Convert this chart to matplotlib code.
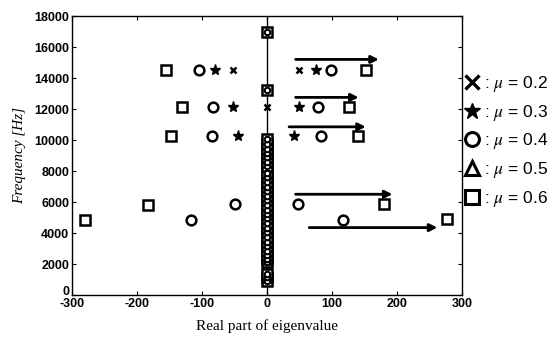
import matplotlib
matplotlib.use("Agg")
import matplotlib.pyplot as plt
import matplotlib.transforms as mtransforms
from matplotlib.lines import Line2D

plt.rcParams['mathtext.fontset'] = 'stix'
plt.rcParams['axes.unicode_minus'] = False

# unstable mode pairs (real part, frequency) for each friction coefficient
mu02_re = [-53, 49, 0]
mu02_f = [14500, 14500, 12150]

mu03_re = [-80, 75, -53, 49, -45, 42]
mu03_f = [14500, 14500, 12150, 12150, 10250, 10250]

mu04_re = [-104, 99, -83, 78, -85, 83, -50, 48, -117, 117]
mu04_f = [14500, 14500, 12150, 12150, 10250, 10250, 5850, 5850, 4820, 4820]

mu06_re = [-156, 152, -131, 126, -147, 140, -183, 180, -280, 277]
mu06_f = [14500, 14500, 12150, 12150, 10250, 10250, 5820, 5860, 4840, 4900]

# stable modes sitting on the imaginary axis
zero_f = [900, 1150, 1350, 2100, 2350, 2600, 2850, 3150, 3450, 3750, 4050,
          4350, 4650, 4950, 5200, 5500, 5800, 6100, 6400, 6700, 7000, 7300,
          7600, 7900, 8300, 8600, 8900, 9150, 9450, 9750, 10050, 13200, 17000]

# arrows showing the trend with increasing mu
arrow_f = [15200, 12750, 10850, 6500, 4350]
arrow_x0 = [44, 44, 34, 44, 65]
arrow_x1 = [172, 141, 152, 193, 262]

legend_markers = ['x', '*', 'o', '^', 's']
legend_labels = [r': $\mu$ = 0.2', r': $\mu$ = 0.3', r': $\mu$ = 0.4',
                 r': $\mu$ = 0.5', r': $\mu$ = 0.6']

fig = plt.figure(figsize=(5.59, 3.37), dpi=100)
ax = fig.add_axes([0.1288, 0.1246, 0.6977, 0.8279])

ax.axvline(0, color='k', lw=1, zorder=1)

ax.plot([0] * len(zero_f), zero_f, ls='', marker='s', ms=7, mfc='white',
        mec='k', mew=1.8, zorder=2)
ax.plot([0] * len(zero_f), zero_f, ls='', marker='o', ms=4, mfc='white',
        mec='k', mew=1.5, zorder=3)

ax.plot(mu06_re, mu06_f, ls='', marker='s', ms=7, mfc='white', mec='k', mew=1.8)
ax.plot(mu04_re, mu04_f, ls='', marker='o', ms=7, mfc='white', mec='k', mew=1.8)
ax.plot(mu03_re, mu03_f, ls='', marker='*', ms=8, color='k')
ax.plot(mu02_re, mu02_f, ls='', marker='x', ms=4, color='k', mew=1.8)

for f, x0, x1 in zip(arrow_f, arrow_x0, arrow_x1):
    ax.annotate('', xy=(x1, f), xytext=(x0, f),
                arrowprops=dict(arrowstyle='-|>', lw=2, color='k',
                                mutation_scale=11, shrinkA=0, shrinkB=0))

ax.set_xlim(-300, 300)
ax.set_ylim(0, 18000)
ax.set_xticks(range(-300, 301, 100))
ax.set_yticks(range(0, 18001, 2000))
ax.tick_params(direction='in', top=True, right=True, length=3, width=0.8,
               labelsize=9, pad=2)
for lbl in ax.get_xticklabels() + ax.get_yticklabels():
    lbl.set_family('Liberation Sans')
    lbl.set_fontweight('bold')
for sp in ax.spines.values():
    sp.set_linewidth(1)

# lift the "0" on the frequency axis a little so it clears "-300"
zero_lbl = ax.get_yticklabels()[0]
zero_lbl.set_transform(zero_lbl.get_transform() +
                       mtransforms.ScaledTranslation(0, 3 / 72, fig.dpi_scale_trans))

ax.set_xlabel('Real part of eigenvalue', family='Liberation Serif',
              fontsize=11, labelpad=7)
ax.set_ylabel('Frequency [Hz]', family='Liberation Serif', style='italic',
              fontsize=11, labelpad=6)

handles = []
for m in legend_markers:
    if m == '*':
        h = Line2D([], [], ls='', marker=m, ms=12, color='k')
    elif m == 'x':
        h = Line2D([], [], ls='', marker=m, ms=10, color='k', mew=2.4)
    else:
        h = Line2D([], [], ls='', marker=m, ms=10, mfc='white', mec='k', mew=2.2)
    handles.append(h)

fig.legend(handles, legend_labels, loc='upper left',
           bbox_to_anchor=(0.828, 1 - 74 / 337), frameon=False,
           handlelength=1.0, handletextpad=0.2, labelspacing=0.5,
           borderpad=0, borderaxespad=0,
           prop={'family': 'Liberation Sans', 'size': 12.5})

fig.savefig('out.png', dpi=100)
